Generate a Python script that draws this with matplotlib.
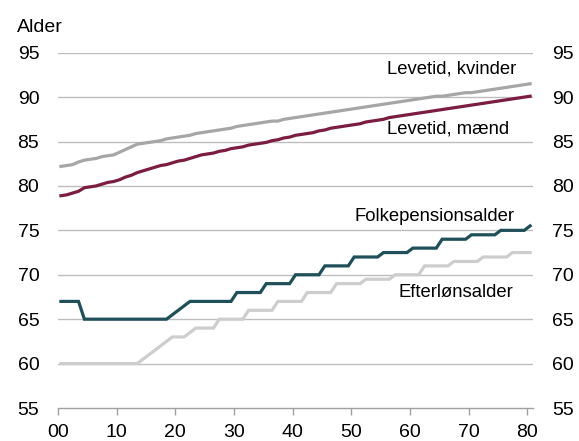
import matplotlib
matplotlib.use("Agg")
import matplotlib.pyplot as plt
import numpy as np

plt.rcParams['font.family'] = ['Liberation Sans', 'DejaVu Sans']

years = list(range(2000, 2081))

levetid_kvinder = [
    82.2, 82.3, 82.4, 82.7, 82.9, 83.0, 83.1, 83.3, 83.4, 83.5,
    83.8, 84.1, 84.4, 84.7, 84.8, 84.9, 85.0, 85.1, 85.3, 85.4,
    85.5, 85.6, 85.7, 85.9, 86.0, 86.1, 86.2, 86.3, 86.4, 86.5,
    86.7, 86.8, 86.9, 87.0, 87.1, 87.2, 87.3, 87.3, 87.5, 87.6,
    87.7, 87.8, 87.9, 88.0, 88.1, 88.2, 88.3, 88.4, 88.5, 88.6,
    88.7, 88.8, 88.9, 89.0, 89.1, 89.2, 89.3, 89.4, 89.5, 89.6,
    89.7, 89.8, 89.9, 90.0, 90.1, 90.1, 90.2, 90.3, 90.4, 90.5,
    90.5, 90.6, 90.7, 90.8, 90.9, 91.0, 91.1, 91.2, 91.3, 91.4,
    91.5]

levetid_maend = [
    78.9, 79.0, 79.2, 79.4, 79.8, 79.9, 80.0, 80.2, 80.4, 80.5,
    80.7, 81.0, 81.2, 81.5, 81.7, 81.9, 82.1, 82.3, 82.4, 82.6,
    82.8, 82.9, 83.1, 83.3, 83.5, 83.6, 83.7, 83.9, 84.0, 84.2,
    84.3, 84.4, 84.6, 84.7, 84.8, 84.9, 85.1, 85.2, 85.4, 85.5,
    85.7, 85.8, 85.9, 86.0, 86.2, 86.3, 86.5, 86.6, 86.7, 86.8,
    86.9, 87.0, 87.2, 87.3, 87.4, 87.5, 87.7, 87.8, 87.9, 88.0,
    88.1, 88.2, 88.3, 88.4, 88.5, 88.6, 88.7, 88.8, 88.9, 89.0,
    89.1, 89.2, 89.3, 89.4, 89.5, 89.6, 89.7, 89.8, 89.9, 90.0,
    90.1]

folkepensionsalder = (
    [67] * 4 + [65] * 15 + [65.5, 66, 66.5] + [67] * 8 +
    [68] * 5 + [69] * 5 + [70] * 5 + [71] * 5 + [72] * 5 +
    [72.5] * 5 + [73] * 5 + [74] * 5 + [74.5] * 5 + [75] * 5 + [75.5])

efterloensalder = (
    [60] * 14 + [60.5, 61, 61.5, 62, 62.5, 63] + [63, 63] + [63.5, 64] +
    [64] * 3 + [65] * 5 + [66] * 5 + [67] * 5 + [68] * 5 + [69] * 5 +
    [69.5] * 5 + [70] * 5 + [71] * 5 + [71.5] * 5 + [72] * 5 + [72.5] * 4)

yticks = [55, 60, 65, 70, 75, 80, 85, 90, 95]
xtick_years = [2000, 2010, 2020, 2030, 2040, 2050, 2060, 2070, 2080]
xtick_labels = ['00', '10', '20', '30', '40', '50', '60', '70', '80']

c_kv = '#a6a6a6'
c_ma = '#7b1c41'
c_fp = '#1f4f58'
c_ef = '#cdcdcd'
grid_c = '#bdbdbd'

fig = plt.figure(figsize=(5.79, 4.41), dpi=100)
ax = fig.add_axes([0.1002, 0.0748, 0.8204, 0.8057])

x = np.array(years) + 0.5
lw = 2.3
ax.plot(x, efterloensalder, color=c_ef, lw=lw, solid_joinstyle='miter', zorder=3)
ax.plot(x, folkepensionsalder, color=c_fp, lw=lw, solid_joinstyle='miter', zorder=4)
ax.plot(x, levetid_kvinder, color=c_kv, lw=lw, zorder=3)
ax.plot(x, levetid_maend, color=c_ma, lw=lw, zorder=4)

ax.set_xlim(2000, 2081)
ax.set_ylim(55, 95)
ax.set_yticks(yticks)
ax.set_yticklabels([str(v) for v in yticks])
ax.set_xticks(xtick_years)
ax.set_xticklabels(xtick_labels)

for v in yticks[1:]:
    ax.axhline(v, color=grid_c, lw=1.0, zorder=1)

for s in ['left', 'right', 'top']:
    ax.spines[s].set_visible(False)
ax.spines['bottom'].set_color('#a0a0a0')
ax.spines['bottom'].set_linewidth(1.0)

tfs = 14
ax.tick_params(axis='x', direction='out', length=5, width=1.0, color='#a0a0a0',
               labelsize=tfs, pad=6.5)
ax.tick_params(axis='y', length=0, labelsize=tfs, pad=13.5,
               labelleft=True, labelright=True)

fig.text(17 / 579, 1 - 32 / 441, 'Alder', fontsize=tfs, ha='left', va='baseline')

fs = 13.3
ax.text(2078.15, 92.71, 'Levetid, kvinder', fontsize=fs, ha='right', va='baseline')
ax.text(2077.0, 85.92, 'Levetid, mænd', fontsize=fs, ha='right', va='baseline')
ax.text(2077.9, 76.05, 'Folkepensionsalder', fontsize=fs, ha='right', va='baseline')
ax.text(2077.7, 67.45, 'Efterlønsalder', fontsize=fs, ha='right', va='baseline')

fig.savefig('out.png', dpi=100)
